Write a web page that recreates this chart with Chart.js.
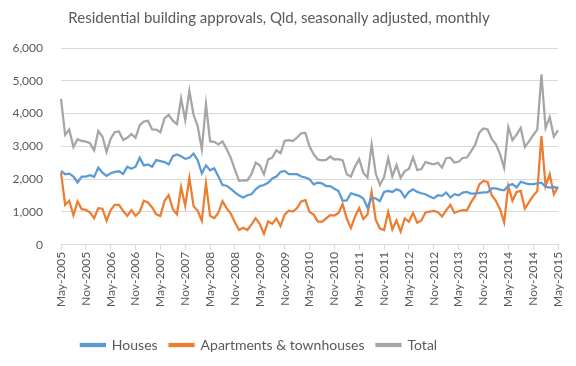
<!DOCTYPE html>
<html>
<head>
<meta charset="utf-8">
<script src="https://cdn.jsdelivr.net/npm/chart.js@4.4.1/dist/chart.umd.min.js"></script>
<style>
  html, body { margin: 0; padding: 0; background: #ffffff; }
  #wrap { width: 576px; height: 366px; position: relative; }
</style>
</head>
<body>
<div id="wrap"><canvas id="c" width="576" height="366"></canvas></div>
<script>
// Categories: monthly, May-2005 .. May-2015
const monthNames = ['Jan','Feb','Mar','Apr','May','Jun','Jul','Aug','Sep','Oct','Nov','Dec'];
const startYear = 2005, startMonth = 4, monthCount = 121;
const categories = [];
for (let k = 0; k < monthCount; k++) {
  const m = (startMonth + k) % 12;
  const y = startYear + Math.floor((startMonth + k) / 12);
  categories.push(monthNames[m] + '-' + y);
}
const tickEvery = 6;

const houses = [
  2250, 2150, 2170, 2080, 1900, 2080, 2080, 2120, 2070, 2350, 2200, 2100,
  2180, 2220, 2240, 2160, 2380, 2320, 2380, 2650, 2420, 2450, 2380, 2580,
  2550, 2520, 2450, 2700, 2750, 2700, 2620, 2650, 2780, 2580, 2180, 2420,
  2270, 2330, 2080, 1820, 1800, 1700, 1600, 1500, 1440, 1510, 1540, 1690,
  1790, 1820, 1890, 2020, 2080, 2220, 2250, 2150, 2150, 2150, 2080, 2050,
  2000, 1840, 1890, 1870, 1790, 1790, 1710, 1640, 1340, 1350, 1570, 1530,
  1490, 1410, 1130, 1440, 1410, 1330, 1610, 1640, 1610, 1690, 1640, 1440,
  1610, 1690, 1610, 1570, 1540, 1470, 1420, 1510, 1490, 1590, 1440, 1540,
  1510, 1590, 1610, 1560, 1560, 1580, 1600, 1600, 1720, 1720, 1680, 1660,
  1800, 1850, 1750, 1920, 1880, 1850, 1850, 1870, 1890, 1770, 1740, 1760,
  1720
];
const apartments = [
  2200, 1215, 1340, 900, 1320, 1085, 1065, 980, 810, 1115, 1100, 730,
  1055, 1215, 1215, 1035, 880, 1055, 880, 1000, 1340, 1290, 1135, 930,
  880, 1340, 1510, 1085, 930, 1760, 1185, 2040, 1185, 1035, 730, 1870,
  880, 810, 980, 1330, 1110, 950, 680, 450, 520, 450, 620, 810,
  630, 330, 710, 640, 800, 570, 920, 1040, 1010, 1120, 1320, 1360,
  1000, 920, 710, 700, 800, 900, 890, 970, 1235, 800, 510, 860,
  1120, 780, 920, 1615, 760, 490, 450, 1000, 470, 740, 400, 805,
  700, 970, 670, 740, 983, 1010, 1033, 990, 860, 1050, 1215, 970,
  1020, 1055, 1050, 1290, 1490, 1840, 1945, 1915, 1510, 1340, 1085, 680,
  1790, 1340, 1610, 1640, 1100, 1300, 1490, 1640, 3310, 1790, 2150, 1540,
  1770
];
const total = [
  4450, 3350, 3510, 2980, 3220, 3165, 3145, 3100, 2880, 3465, 3300, 2830,
  3235, 3435, 3455, 3195, 3260, 3375, 3260, 3650, 3760, 3780, 3515, 3510,
  3430, 3860, 3960, 3785, 3680, 4460, 3805, 4690, 3965, 3615, 2910, 4290,
  3150, 3140, 3060, 3150, 2910, 2650, 2280, 1950, 1960, 1960, 2160, 2500,
  2420, 2150, 2600, 2660, 2880, 2790, 3170, 3190, 3160, 3270, 3400, 3410,
  3000, 2760, 2600, 2570, 2590, 2690, 2600, 2610, 2575, 2150, 2080, 2390,
  2610, 2190, 2050, 3055, 2170, 1820, 2060, 2640, 2080, 2430, 2040, 2245,
  2310, 2660, 2280, 2310, 2523, 2480, 2453, 2500, 2350, 2640, 2655, 2510,
  2530, 2645, 2660, 2850, 3050, 3420, 3545, 3515, 3230, 3060, 2765, 2340,
  3590, 3190, 3360, 3560, 2980, 3150, 3340, 3510, 5200, 3560, 3890, 3300,
  3490
];
const yTicks = [0, 1000, 2000, 3000, 4000, 5000, 6000];

const FONT = 'Lato, "Open Sans", sans-serif';
const TXT = '#595959';
const GRID = '#d9d9d9';

function ds(label, data, color) {
  return {
    label, data,
    borderColor: color, backgroundColor: color,
    borderWidth: 2.25, pointRadius: 0, pointHoverRadius: 0,
    tension: 0, fill: false
  };
}

// shifts the centred legend a little to the left, as in the reference
const legendShift = {
  id: 'legendShift',
  afterLayout(chart) {
    const lg = chart.legend;
    if (lg) { lg.left -= 20; lg.right -= 20; }
  }
};

new Chart(document.getElementById('c'), {
  type: 'line',
  data: {
    labels: categories,
    datasets: [
      ds('Houses', houses, '#5B9BD5'),
      ds('Apartments & townhouses', apartments, '#ED7D31'),
      ds('Total', total, '#A5A5A5')
    ]
  },
  plugins: [legendShift],
  options: {
    responsive: false,
    animation: false,
    events: [],
    layout: { padding: { left: 0, right: 18, top: 5, bottom: 4 } },
    plugins: {
      title: {
        display: true,
        text: 'Residential building approvals, Qld, seasonally adjusted, monthly',
        color: TXT,
        font: { family: FONT, size: 15, weight: 'normal' },
        padding: { top: 4, bottom: 21 }
      },
      legend: {
        position: 'bottom',
        labels: {
          color: TXT,
          font: { family: FONT, size: 14 },
          boxWidth: 24,
          boxHeight: 2,
          padding: 12
        }
      },
      tooltip: { enabled: false }
    },
    scales: {
      x: {
        type: 'category',
        offset: false,
        afterFit: (scale) => { scale.height += 17; },
        border: { display: true, color: GRID, width: 1 },
        grid: {
          display: true,
          drawOnChartArea: false,
          drawTicks: true,
          tickLength: 5,
          color: (ctx) => (ctx.index % tickEvery === 0 ? GRID : 'rgba(0,0,0,0)')
        },
        ticks: {
          autoSkip: false,
          maxRotation: 90,
          minRotation: 90,
          color: TXT,
          padding: 2,
          font: { family: FONT, size: 12 },
          callback: function (value, index) {
            return index % tickEvery === 0 ? categories[index] : '';
          }
        }
      },
      y: {
        min: yTicks[0],
        max: yTicks[yTicks.length - 1],
        afterFit: (scale) => { scale.width = 61; },
        border: { display: false },
        grid: { color: GRID, drawTicks: false, lineWidth: 1 },
        afterBuildTicks: (axis) => { axis.ticks = yTicks.map(v => ({ value: v })); },
        ticks: {
          color: TXT,
          padding: 18,
          font: { family: FONT, size: 12 },
          callback: (v) => Number(v).toLocaleString('en-US')
        }
      }
    }
  }
});
</script>
</body>
</html>
